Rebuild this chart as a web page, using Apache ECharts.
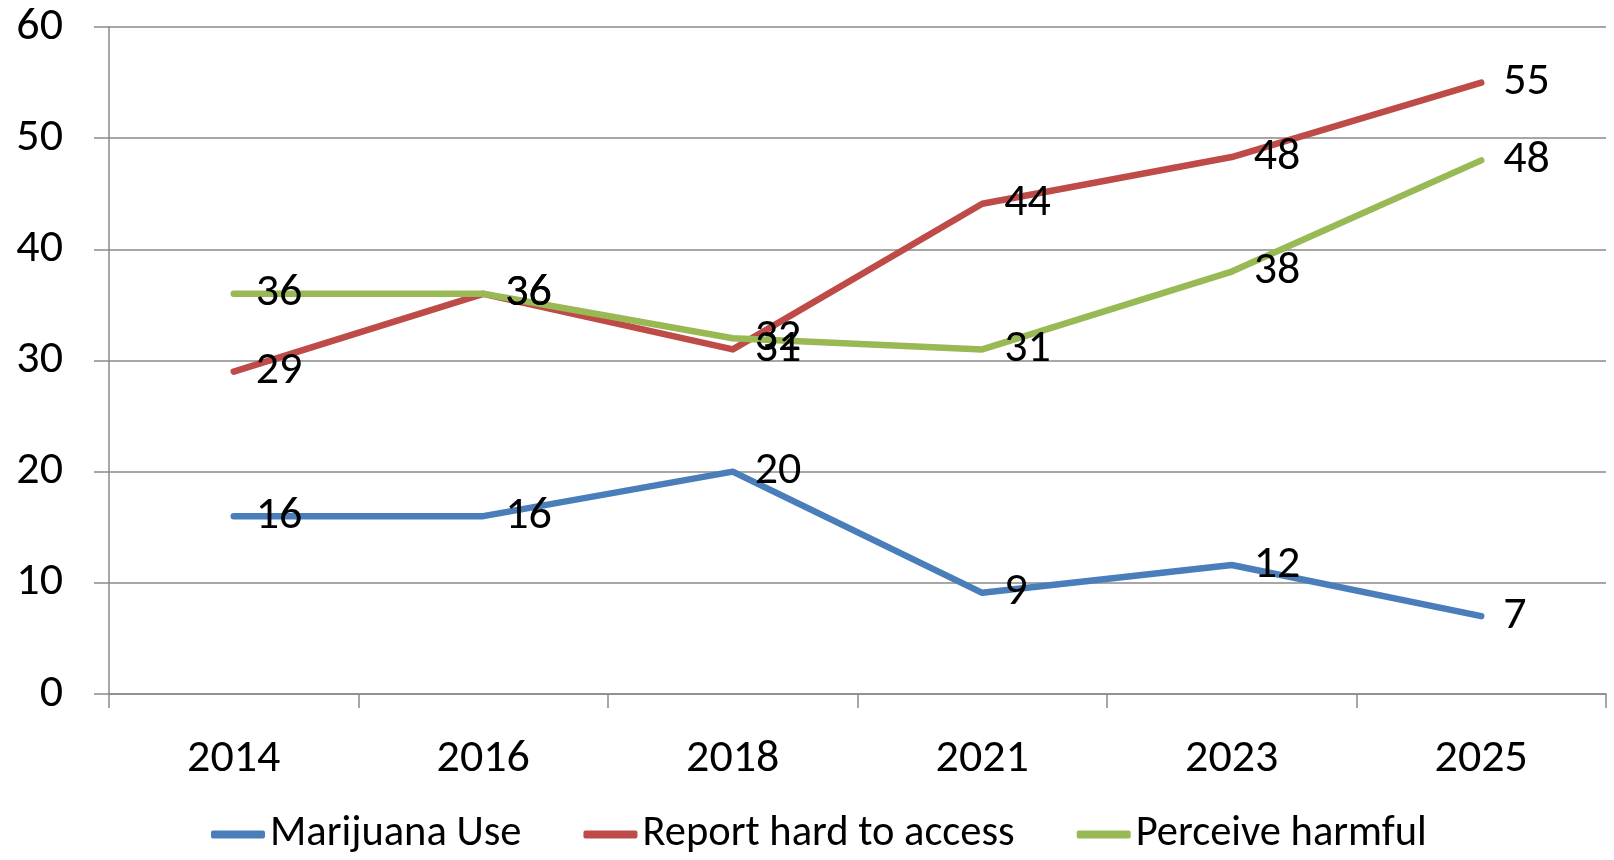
<!DOCTYPE html>
<html>
<head>
<meta charset="utf-8">
<script src="https://cdn.jsdelivr.net/npm/echarts@6/dist/echarts.min.js"></script>
<style>
html,body{margin:0;padding:0;background:#fff;}
#chart{width:1614px;height:860px;}
</style>
</head>
<body>
<div id="chart"></div>
<script>
const years = ['2014', '2016', '2018', '2021', '2023', '2025'];
const marijuanaUse = [16, 16, 20, 9.1, 11.6, 7];
const reportHardToAccess = [29, 36, 31, 44.1, 48.3, 55];
const perceiveHarmful = [36, 36, 32, 31, 38, 48];
const seriesNames = ['Marijuana Use', 'Report hard to access', 'Perceive harmful'];
const yTicks = { min: 0, max: 60, interval: 10 };

const FONT = 'Carlito, Lato, "Open Sans", sans-serif';
const colors = ['#4a7ebb', '#be4b48', '#98b954'];

function mkSeries(name, data, color) {
  return {
    name: name,
    type: 'line',
    data: data,
    symbol: 'circle',
    symbolSize: 0.01,
    showSymbol: true,
    lineStyle: { width: 6.5, color: color, cap: 'round', join: 'round' },
    itemStyle: { color: color },
    label: {
      show: true,
      position: 'right',
      distance: 22,
      padding: [8, 0, 0, 0],
      fontFamily: FONT,
      fontSize: 46,
      color: '#000',
      formatter: p => String(Math.round(p.value))
    },
    labelLayout: { hideOverlap: false },
    emphasis: { disabled: true },
    animation: false
  };
}

const chart = echarts.init(document.getElementById('chart'), null, { renderer: 'canvas' });
chart.setOption({
  backgroundColor: '#fff',
  animation: false,
  color: colors,
  grid: { left: 109, right: 8, top: 27, bottom: 166, containLabel: false },
  legend: {
    left: 206,
    top: 808,
    itemWidth: 54,
    itemHeight: 8,
    itemGap: 62,
    icon: 'roundRect',
    textStyle: { fontFamily: FONT, fontSize: 42.5, color: '#000' },
    data: seriesNames
  },
  xAxis: {
    type: 'category',
    data: years,
    boundaryGap: true,
    axisLine: { show: true, lineStyle: { color: '#8a8a8a', width: 1.5 } },
    axisTick: { show: true, length: 14, interval: 0, lineStyle: { color: '#8a8a8a', width: 1.5 } },
    axisLabel: { fontFamily: FONT, fontSize: 46, color: '#000', margin: 42, interval: 0 },
    splitLine: { show: false }
  },
  yAxis: {
    type: 'value',
    min: yTicks.min,
    max: yTicks.max,
    interval: yTicks.interval,
    axisLine: { show: true, lineStyle: { color: '#8a8a8a', width: 1.5 } },
    axisTick: { show: true, length: 15, lineStyle: { color: '#8a8a8a', width: 1.5 } },
    axisLabel: { fontFamily: FONT, fontSize: 46, color: '#000', margin: 46 },
    splitLine: { show: true, lineStyle: { color: '#8a8a8a', width: 1.5 } }
  },
  series: [
    mkSeries(seriesNames[0], marijuanaUse, colors[0]),
    mkSeries(seriesNames[1], reportHardToAccess, colors[1]),
    mkSeries(seriesNames[2], perceiveHarmful, colors[2])
  ]
});
</script>
</body>
</html>
